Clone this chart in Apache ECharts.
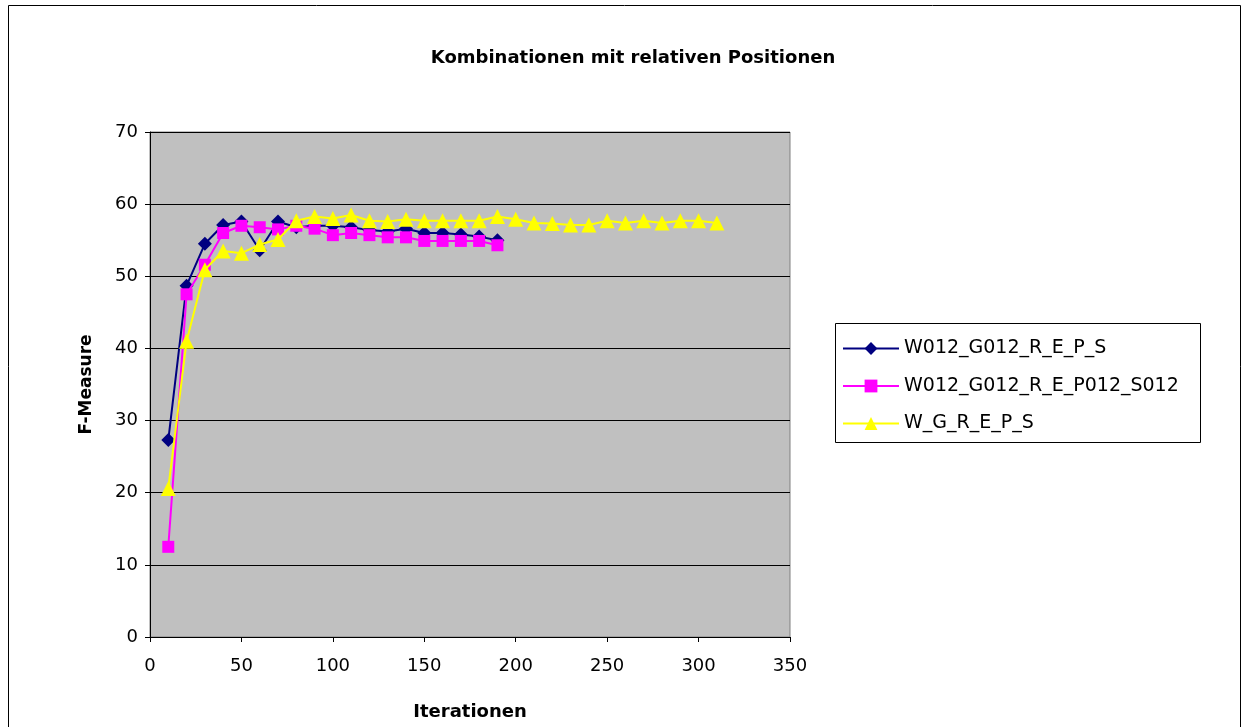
<!DOCTYPE html>
<html>
<head>
<meta charset="utf-8">
<script src="https://cdn.jsdelivr.net/npm/echarts@6/dist/echarts.min.js"></script>
<style>
  html, body { margin: 0; padding: 0; background: #fff; }
  #chart { width: 1246px; height: 727px; }
</style>
</head>
<body>
<div id="chart"></div>
<script>
// Iteration steps
const iterShort = [10, 20, 30, 40, 50, 60, 70, 80, 90, 100, 110, 120, 130, 140, 150, 160, 170, 180, 190];
const iterLong = [10, 20, 30, 40, 50, 60, 70, 80, 90, 100, 110, 120, 130, 140, 150, 160, 170, 180, 190,
                  200, 210, 220, 230, 240, 250, 260, 270, 280, 290, 300, 310];

// F-Measure per configuration
const seriesNames = ['W012_G012_R_E_P_S', 'W012_G012_R_E_P012_S012', 'W_G_R_E_P_S'];
const fW012G012REPS = [27.3, 48.7, 54.5, 57.1, 57.6, 53.6, 57.6, 56.8, 57.0, 57.0,
                       56.8, 56.4, 56.2, 56.6, 56.0, 56.0, 55.8, 55.5, 55.0];
const fW012G012REP012S012 = [12.5, 47.5, 51.6, 56.0, 57.0, 56.8, 56.5, 57.0, 56.6, 55.7,
                             56.0, 55.7, 55.4, 55.4, 54.9, 54.9, 54.9, 54.9, 54.3];
const fWGREPS = [20.6, 41.0, 50.9, 53.5, 53.2, 54.4, 55.1, 57.7, 58.3, 58.0,
                 58.5, 57.7, 57.6, 57.9, 57.7, 57.7, 57.7, 57.7, 58.3, 57.9,
                 57.4, 57.3, 57.1, 57.1, 57.7, 57.4, 57.7, 57.4, 57.7, 57.7, 57.4];

const FONT = '"DejaVu Sans", Verdana, sans-serif';

function pairs(xs, ys) {
  return xs.map((x, i) => [x, ys[i]]);
}

const chart = echarts.init(document.getElementById('chart'), null, { renderer: 'canvas' });

chart.setOption({
  animation: false,
  backgroundColor: '#ffffff',
  title: {
    text: 'Kombinationen mit relativen Positionen',
    left: 628, top: 44, textAlign: 'center',
    textStyle: { fontFamily: FONT, fontSize: 18, fontWeight: 'bold', color: '#000' }
  },
  graphic: [
    { type: 'rect', shape: { x: 8.5, y: 5.5, width: 1232, height: 760 },
      style: { fill: 'none', stroke: '#000', lineWidth: 1 }, z: 0, silent: true },
    { type: 'rect', shape: { x: 835.5, y: 323.5, width: 365, height: 119 },
      style: { fill: '#fff', stroke: '#000', lineWidth: 1 }, z: 0, silent: true }
  ],
  legend: {
    orient: 'vertical',
    left: 842, top: 338,
    padding: 0,
    itemWidth: 56, itemHeight: 16,
    itemGap: 16.5,
    textStyle: { fontFamily: FONT, fontSize: 19, lineHeight: 21, color: '#000', padding: [0, 0, 0, 0] },
    data: seriesNames
  },
  grid: {
    left: 150, top: 132, width: 640, height: 505,
    outerBoundsMode: 'none',
    containLabel: false,
    show: true, backgroundColor: '#C0C0C0', borderColor: '#808080', borderWidth: 1
  },
  xAxis: {
    type: 'value', min: 0, max: 350, interval: 50,
    name: 'Iterationen', nameLocation: 'middle', nameGap: 66,
    nameTextStyle: { fontFamily: FONT, fontSize: 18, fontWeight: 'bold', color: '#000' },
    axisLine: { show: true, lineStyle: { color: '#000', width: 1 } },
    axisTick: { show: true, length: 5, lineStyle: { color: '#000' } },
    axisLabel: { fontFamily: FONT, fontSize: 18, color: '#000', margin: 20 },
    splitLine: { show: false }
  },
  yAxis: {
    type: 'value', min: 0, max: 70, interval: 10,
    name: 'F-Measure', nameLocation: 'middle', nameGap: 55,
    nameTextStyle: { fontFamily: FONT, fontSize: 17, fontWeight: 'bold', color: '#000' },
    axisLine: { show: true, lineStyle: { color: '#000', width: 1 } },
    axisTick: { show: true, length: 5, lineStyle: { color: '#000' } },
    axisLabel: { fontFamily: FONT, fontSize: 18, color: '#000', margin: 12 },
    splitLine: { show: true, lineStyle: { color: '#000', width: 1 } }
  },
  series: [
    {
      name: seriesNames[0], type: 'line',
      data: pairs(iterShort, fW012G012REPS),
      symbol: 'diamond', symbolSize: 14, showAllSymbol: true,
      lineStyle: { color: '#000080', width: 2 },
      itemStyle: { color: '#000080', borderWidth: 0 },
      z: 2
    },
    {
      name: seriesNames[1], type: 'line',
      data: pairs(iterShort, fW012G012REP012S012),
      symbol: 'rect', symbolSize: 12, showAllSymbol: true,
      lineStyle: { color: '#FF00FF', width: 2 },
      itemStyle: { color: '#FF00FF', borderWidth: 0 },
      z: 3
    },
    {
      name: seriesNames[2], type: 'line',
      data: pairs(iterLong, fWGREPS),
      symbol: 'triangle', symbolSize: 15, showAllSymbol: true,
      lineStyle: { color: '#FFFF00', width: 2 },
      itemStyle: { color: '#FFFF00', borderWidth: 0 },
      z: 4
    }
  ]
});
</script>
</body>
</html>
